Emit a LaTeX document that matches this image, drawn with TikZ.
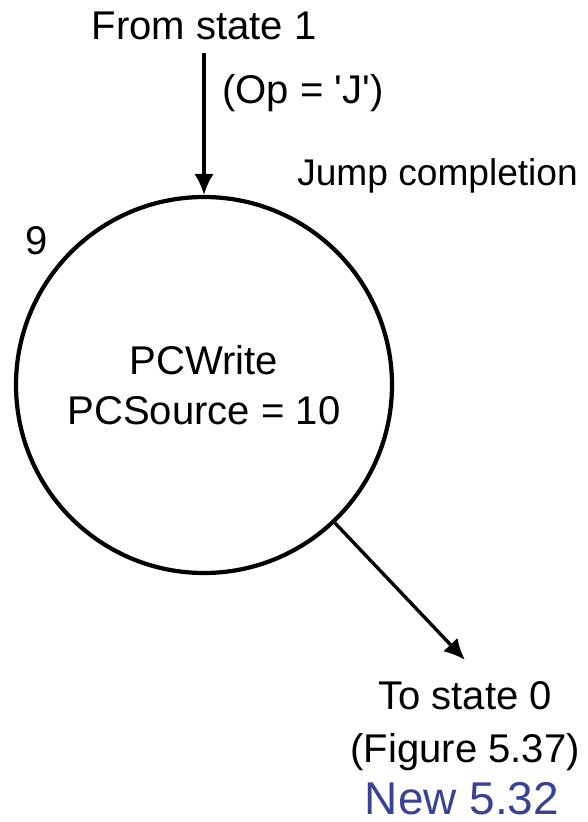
\documentclass[tikz,border=0pt]{standalone}
\usepackage{fontspec}
\newfontfamily\lblfont{Liberation Sans}
\usetikzlibrary{positioning,arrows.meta}
\definecolor{newblue}{RGB}{58,66,148}

\begin{document}
\begin{tikzpicture}[
  font=\lblfont\fontsize{28.5}{35.5}\selectfont,
  state/.style={draw,circle,line width=3pt,minimum size=9.4cm,inner sep=0pt,align=center},
  lbl/.style={inner sep=0.33em},
  flow/.style={line width=2.4pt,-{Latex[length=15pt,width=14pt]}},
  newlbl/.style={text=newblue,inner sep=0pt,font=\lblfont\fontsize{32.7}{38}\selectfont}]

\useasboundingbox (0,0) rectangle (14.7,-20.55);

% state 9
\node[state] (s9) at (5.1,-9.625) {PCWrite\\PCSource = 10};
\node[lbl] (num) at (0.925,-6.03) {9};

% incoming
\node[lbl] (from) at (5.1,-0.65) {From state 1};
\node[lbl,anchor=west,inner sep=0pt] (cond) at (5.55,-2.33) {(Op = 'J')};
\node[lbl,anchor=west,inner sep=0pt,font=\lblfont\fontsize{26.4}{32}\selectfont] (jump) at (7.425,-4.4) {Jump completion};
\draw[flow,shorten <=0.2cm] (from) -- (s9);

% outgoing
\coordinate (tip) at (11.625,-16.5);
\node[lbl,align=center,font=\lblfont\fontsize{28.5}{37.7}\selectfont] (to) at (11.63,-18.15) {To state 0\\(Figure 5.37)};
\draw[flow] (s9) -- (tip);

\node[newlbl] (new) at (11.55,-19.97) {New 5.32};
\end{tikzpicture}
\end{document}
